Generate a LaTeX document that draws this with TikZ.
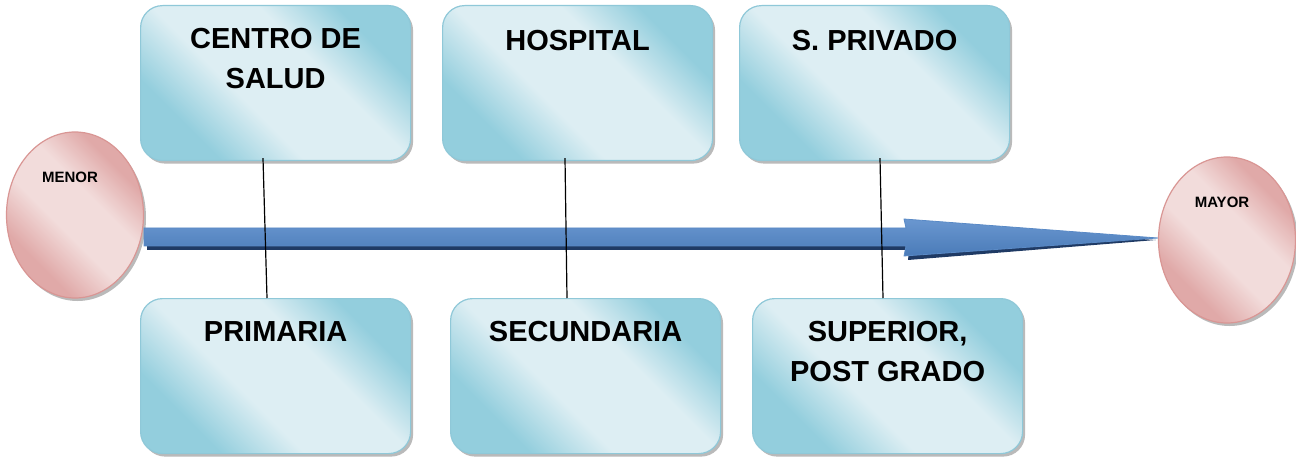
\documentclass[tikz,border=0pt]{standalone}
\usepackage{fontspec}
\setmainfont{Liberation Sans}
\usetikzlibrary{shapes.geometric,shadows,calc}
\definecolor{bdark}{HTML}{93CEDD}
\definecolor{blight}{HTML}{DDEEF3}
\definecolor{bedge}{HTML}{8FC8D8}
\definecolor{pdark}{HTML}{E0A9A8}
\definecolor{plight}{HTML}{F2DCDB}
\definecolor{pedge}{HTML}{D99694}
\definecolor{arrtop}{HTML}{6A97D0}
\definecolor{arrbot}{HTML}{4A7BB8}
\definecolor{arredge}{HTML}{5A8AC6}
\definecolor{arrshadow}{HTML}{1F3A64}
\pgfdeclarehorizontalshading{boxshade}{100bp}{color(0bp)=(bdark); color(28bp)=(bdark); color(42bp)=(blight); color(60bp)=(blight); color(73bp)=(bdark); color(100bp)=(bdark)}
\pgfdeclarehorizontalshading{ellshade}{100bp}{color(0bp)=(pdark); color(30bp)=(pdark); color(44bp)=(plight); color(58bp)=(plight); color(71bp)=(pdark); color(100bp)=(pdark)}
\tikzset{
  box/.style={draw=bedge, line width=1.2pt, rounded corners=22pt, shading=boxshade, shading angle=45,
    minimum width=270pt, minimum height=155pt, inner sep=0pt, anchor=north west,
    drop shadow={shadow xshift=2.5pt, shadow yshift=-3pt, fill=black!45, opacity=0.6}},
  ell/.style={ellipse, draw=pedge, line width=1.2pt, shading=ellshade, shading angle=45,
    minimum width=137pt, minimum height=166pt, inner sep=0pt,
    drop shadow={shadow xshift=2.5pt, shadow yshift=-3pt, fill=black!45, opacity=0.6}},
  boxtext/.style={font=\fontsize{29}{40}\selectfont\bfseries, align=center, anchor=north, inner sep=0pt},
  elltext/.style={font=\fontsize{15}{18}\selectfont\bfseries, inner sep=0pt},
  tie/.style={draw=black, line width=1.2pt}
}
\begin{document}
\begin{tikzpicture}[x=1pt,y=-1pt]
\path[use as bounding box, fill=white] (0,0) rectangle (1296,457);
% ellipses
\node[ell] (menor) at (75,215) {};
\node[elltext] (menorlbl) at (70,177) {MENOR};
\node[ell] (mayor) at (1227,240) {};
\node[elltext] (mayorlbl) at (1222,202) {MAYOR};
% arrow shadow
\fill[arrshadow] ($(menor.east |- 0,228)+(3,4)$) -- (909,232) -- (908,223) -- ($(mayor.west |- 0,238)+(-2,2)$) -- (908,260) -- (909,250) -- ($(menor.east |- 0,246)+(3,4)$) -- cycle;
% arrow
\draw[arredge, line width=0.8pt, top color=arrtop, bottom color=arrbot] (menor.east |- 0,228) -- (906,228) -- (904,219) -- (mayor.west |- 0,238) -- (904,256) -- (906,246) -- (menor.east |- 0,246) -- cycle;
% boxes
\node[box] (cs) at (140,5) {};
\node[boxtext] (cstxt) at ($(cs.north)+(0,23)$) {CENTRO DE\\SALUD};
\node[box] (hos) at (442,5) {};
\node[boxtext] (hostxt) at ($(hos.north)+(0,25)$) {HOSPITAL};
\node[box] (spr) at (739,5) {};
\node[boxtext] (sprtxt) at ($(spr.north)+(0,25)$) {S. PRIVADO};
\node[box] (pri) at (140,298) {};
\node[boxtext] (pritxt) at ($(pri.north)+(0,23)$) {PRIMARIA};
\node[box] (sec) at (450,298) {};
\node[boxtext] (sectxt) at ($(sec.north)+(0,23)$) {SECUNDARIA};
\node[box] (sup) at (752,298) {};
\node[boxtext] (suptxt) at ($(sup.north)+(0,23)$) {SUPERIOR,\\POST GRADO};
% ties
\draw[tie] ($(cs.south west)+(123,-3)$) -- ($(pri.north west)+(127,0)$);
\draw[tie] ($(hos.south west)+(123,-3)$) -- ($(sec.north west)+(117,0)$);
\draw[tie] ($(spr.south west)+(141,-3)$) -- ($(sup.north west)+(131,0)$);
\end{tikzpicture}
\end{document}
